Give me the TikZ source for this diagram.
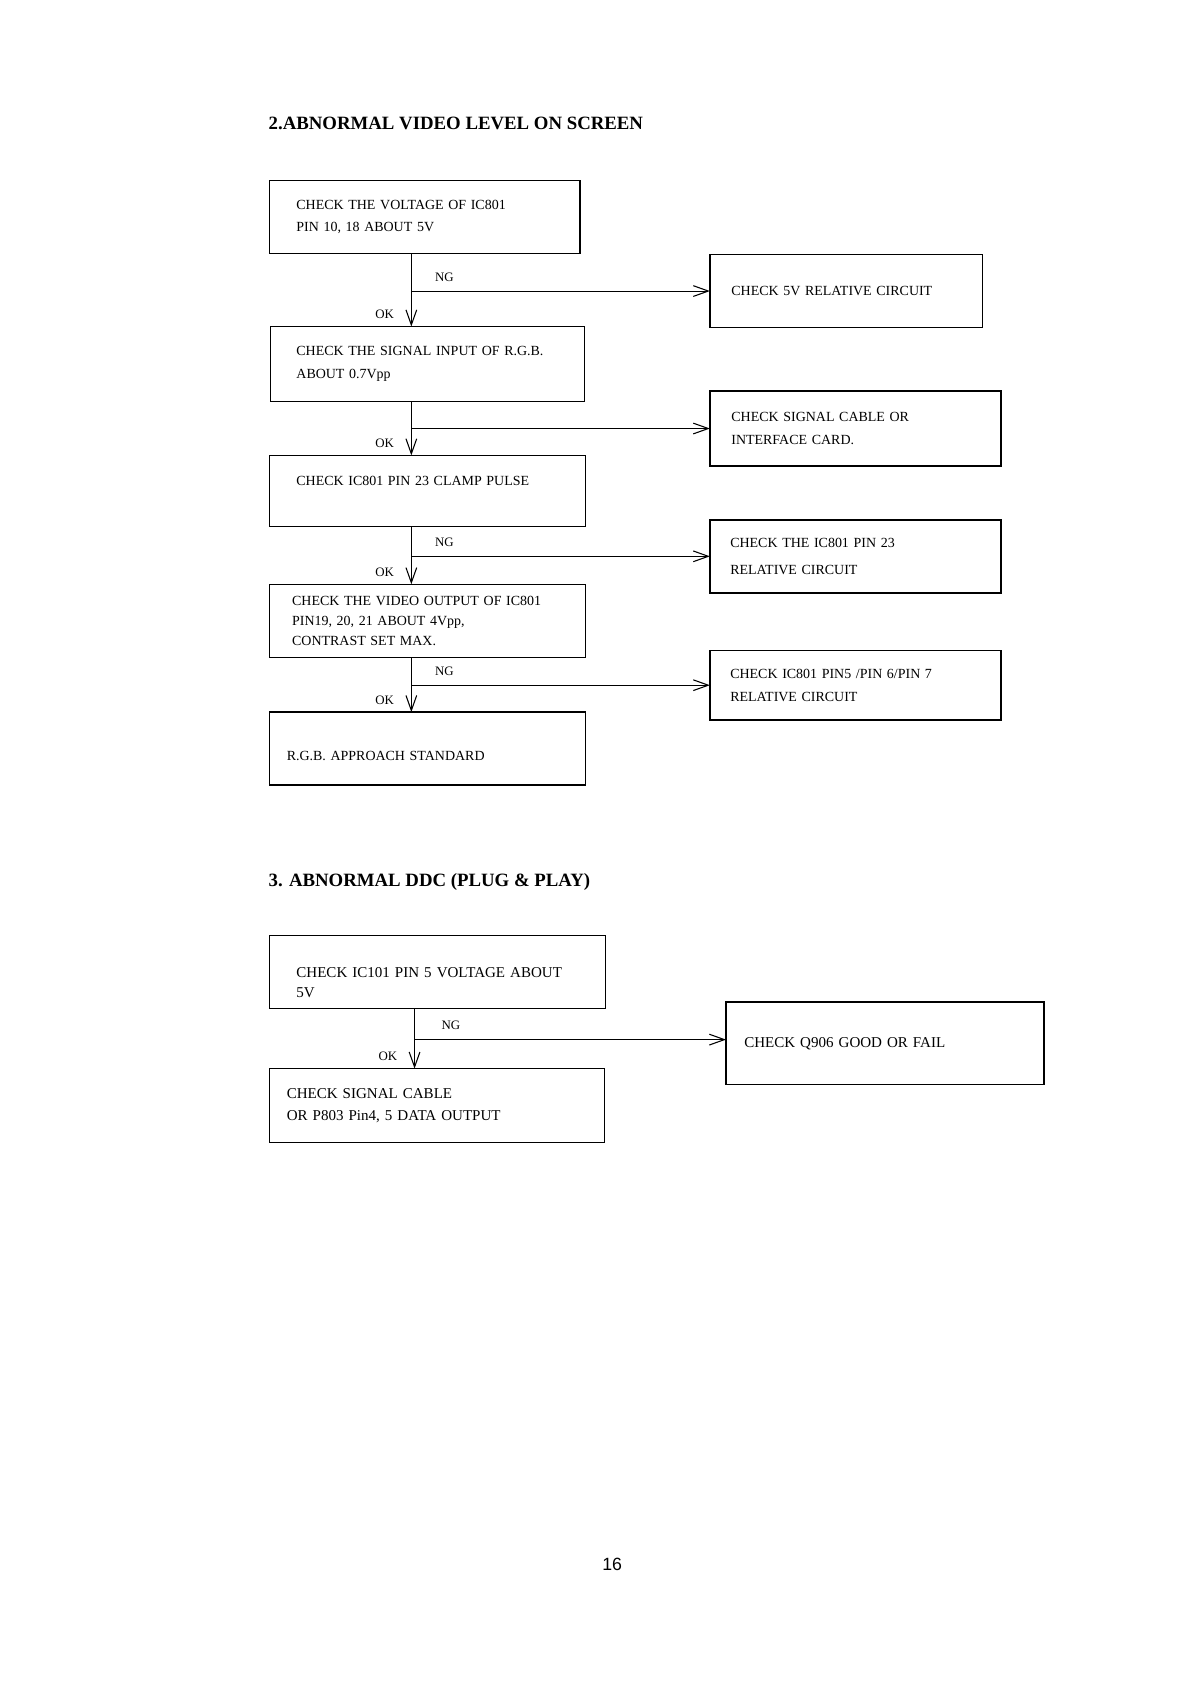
\documentclass[tikz,border=0pt]{standalone}
\usepackage{fontspec}
\setmainfont{Liberation Serif}
\newfontfamily\pagefont{Liberation Sans}
\usetikzlibrary{arrows.meta, positioning}

\begin{document}
\begin{tikzpicture}[
  x=1pt, y=-1pt,
  box/.style={rectangle, draw, line width=1.3pt, outer sep=0pt, align=left, inner ysep=0pt, font=\fontsize{13}{21}\selectfont},
  bigbox/.style={box, font=\fontsize{14}{21}\selectfont},
  heading/.style={inner sep=0pt, anchor=base west, font=\bfseries\fontsize{17.5}{21}\selectfont},
  lbl/.style={inner sep=0pt, font=\fontsize{12}{14}\selectfont},
  link/.style={line width=1pt},
  arrow/.style={-{Straight Barb[length=14pt, width=10pt]}, line width=1pt}
]
  \fill[white] (0,0) rectangle (1109,1568);

  % 2. abnormal video level
  \node[heading] (head2) at (250,121) {2.ABNORMAL VIDEO LEVEL ON SCREEN};

  \node[box, text width=239pt, inner xsep=25pt, minimum height=68pt, anchor=north west] (volt) at (251,168) {CHECK THE VOLTAGE OF IC801\\PIN 10, 18 ABOUT 5V};
  \node[box, text width=244pt, inner xsep=24pt, minimum height=70pt, below right=68pt and 1pt of volt.south west] (rgbin) {CHECK THE SIGNAL INPUT OF R.G.B.\\ABOUT 0.7Vpp};
  \node[box, text width=244pt, inner xsep=25pt, minimum height=66pt, text depth=18pt, below right=50pt and -1pt of rgbin.south west] (clamp) {CHECK IC801 PIN 23 CLAMP PULSE};
  \node[box, text width=252pt, inner xsep=21pt, minimum height=68pt, below right=54pt and 0pt of clamp.south west] (vidout) {CHECK THE VIDEO OUTPUT OF IC801\\[-2.5pt]PIN19, 20, 21 ABOUT 4Vpp,\\[-2.5pt]CONTRAST SET MAX.};
  \node[box, text width=262pt, inner xsep=16pt, minimum height=68pt, text height=23pt, below right=51pt and 0pt of vidout.south west] (rgbok) {R.G.B. APPROACH STANDARD};

  \coordinate (jvolt) at (383,271);
  \coordinate (jrgb) at (383,399);
  \coordinate (jclamp) at (383,518);
  \coordinate (jvid) at (383,638);

  \node[box, text width=214pt, inner xsep=20pt, minimum height=68pt, right=278pt of jvolt] (fivev) {CHECK 5V RELATIVE CIRCUIT};
  \node[box, text width=231pt, inner xsep=20pt, minimum height=70pt, right=278pt of jrgb] (cable) {CHECK SIGNAL CABLE OR\\INTERFACE CARD.};
  \node[box, text width=233pt, inner xsep=19pt, minimum height=68pt, right=278pt of jclamp] (pin23) {CHECK THE IC801 PIN 23\\[4pt]RELATIVE CIRCUIT};
  \node[box, text width=233pt, inner xsep=19pt, minimum height=65pt, right=278pt of jvid] (pin567) {CHECK IC801 PIN5 /PIN 6/PIN 7\\RELATIVE CIRCUIT};

  \draw[link] (volt.south -| jvolt) -- (jvolt);
  \draw[arrow] (jvolt) -- (jvolt |- rgbin.north) coordinate (okvolt);
  \draw[arrow] (jvolt) -- (fivev);
  \draw[link] (rgbin.south -| jrgb) -- (jrgb);
  \draw[arrow] (jrgb) -- (jrgb |- clamp.north) coordinate (okrgb);
  \draw[arrow] (jrgb) -- (cable);
  \draw[link] (clamp.south -| jclamp) -- (jclamp);
  \draw[arrow] (jclamp) -- (jclamp |- vidout.north) coordinate (okclamp);
  \draw[arrow] (jclamp) -- (pin23);
  \draw[link] (vidout.south -| jvid) -- (jvid);
  \draw[arrow] (jvid) -- (jvid |- rgbok.north) coordinate (okvid);
  \draw[arrow] (jvid) -- (pin567);

  \node[lbl, above right=9pt and 22pt of jvolt] (ngvolt) {NG};
  \node[lbl, above right=9pt and 22pt of jclamp] (ngclamp) {NG};
  \node[lbl, above right=9pt and 22pt of jvid] (ngvid) {NG};
  \node[lbl, above left=7pt and 16pt of okvolt] (lokvolt) {OK};
  \node[lbl, above left=7pt and 16pt of okrgb] (lokrgb) {OK};
  \node[lbl, above left=7pt and 16pt of okclamp] (lokclamp) {OK};
  \node[lbl, above left=7pt and 16pt of okvid] (lokvid) {OK};

  % 3. abnormal ddc
  \node[heading] (head3) at (250,825) {3. ABNORMAL DDC (PLUG \& PLAY)};

  \node[bigbox, text width=263pt, inner xsep=25pt, minimum height=68pt, anchor=north west] (ddcv) at (251,871) {\rule{0pt}{29pt}CHECK IC101 PIN 5 VOLTAGE ABOUT\\[-2pt]5V};
  \node[bigbox, text width=280pt, inner xsep=16pt, minimum height=69pt, below right=56pt and 0pt of ddcv.south west] (sigcab) {CHECK SIGNAL CABLE\\OR P803 Pin4, 5 DATA OUTPUT};

  \coordinate (jddc) at (386,968);
  \node[bigbox, text width=262pt, inner xsep=17pt, minimum height=77pt, right=290pt of jddc, yshift=-3.5pt] (qgood) {CHECK Q906 GOOD OR FAIL};

  \draw[link] (ddcv.south -| jddc) -- (jddc);
  \draw[arrow] (jddc) -- (jddc |- sigcab.north) coordinate (okddc);
  \draw[arrow] (jddc) -- (jddc -| qgood.west);
  \node[lbl, above right=9pt and 25pt of jddc] (ngddc) {NG};
  \node[lbl, above left=7pt and 16pt of okddc] (lokddc) {OK};

  \node[font=\pagefont\fontsize{16.5}{20}\selectfont, anchor=base, inner sep=0pt] (pgno) at (570,1462) {16};
\end{tikzpicture}
\end{document}
